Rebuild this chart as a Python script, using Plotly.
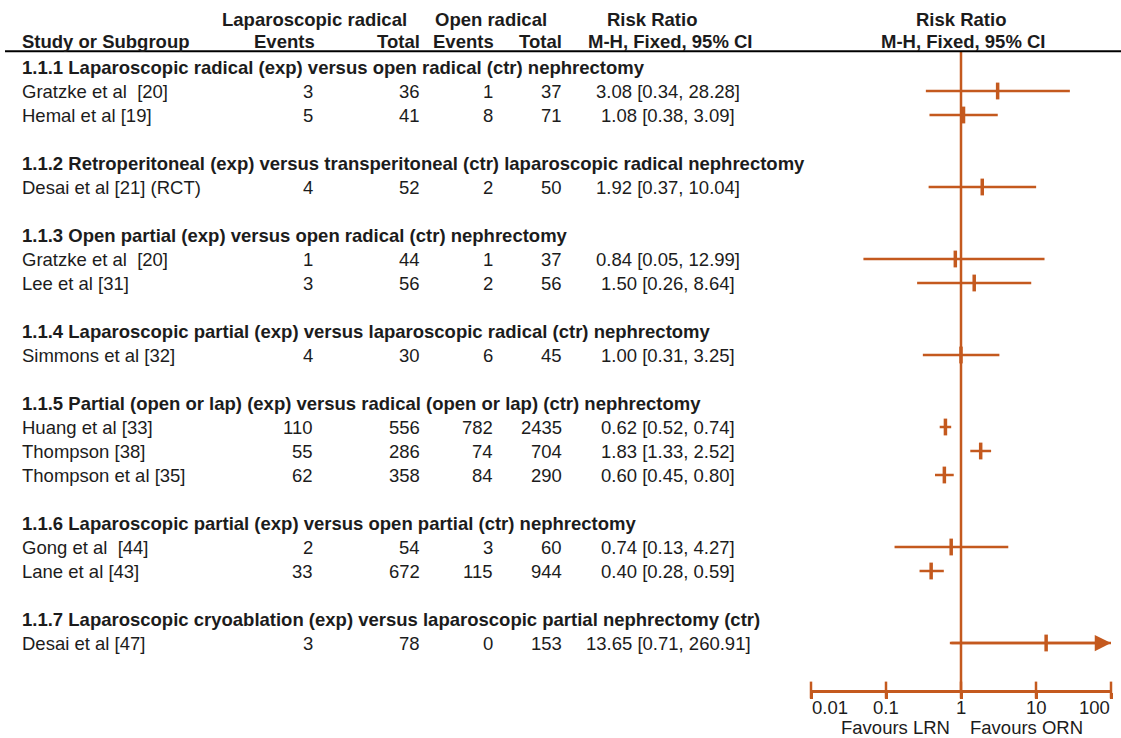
import math
import plotly.graph_objects as go

# ---------------- data ----------------
group_titles = [
    "1.1.1 Laparoscopic radical (exp) versus open radical (ctr) nephrectomy",
    "1.1.2 Retroperitoneal (exp) versus transperitoneal (ctr) laparoscopic radical nephrectomy",
    "1.1.3 Open partial (exp) versus open radical (ctr) nephrectomy",
    "1.1.4 Laparoscopic partial (exp) versus laparoscopic radical (ctr) nephrectomy",
    "1.1.5 Partial (open or lap) (exp) versus radical (open or lap) (ctr) nephrectomy",
    "1.1.6 Laparoscopic partial (exp) versus open partial (ctr) nephrectomy",
    "1.1.7 Laparoscopic cryoablation (exp) versus laparoscopic partial nephrectomy (ctr)",
]
study_group = [0, 0, 1, 2, 2, 3, 4, 4, 4, 5, 5, 6]
study_names = [
    "Gratzke et al\u00a0 [20]", "Hemal et al [19]", "Desai et al [21] (RCT)",
    "Gratzke et al\u00a0 [20]", "Lee et al [31]", "Simmons et al [32]",
    "Huang et al [33]", "Thompson [38]", "Thompson et al [35]",
    "Gong et al\u00a0 [44]", "Lane et al [43]", "Desai et al [47]",
]
events_exp = [3, 5, 4, 1, 3, 4, 110, 55, 62, 2, 33, 3]
total_exp = [36, 41, 52, 44, 56, 30, 556, 286, 358, 54, 672, 78]
events_ctr = [1, 8, 2, 1, 2, 6, 782, 74, 84, 3, 115, 0]
total_ctr = [37, 71, 50, 37, 56, 45, 2435, 704, 290, 60, 944, 153]
rr = [3.08, 1.08, 1.92, 0.84, 1.50, 1.00, 0.62, 1.83, 0.60, 0.74, 0.40, 13.65]
ci_lo = [0.34, 0.38, 0.37, 0.05, 0.26, 0.31, 0.52, 1.33, 0.45, 0.13, 0.28, 0.71]
ci_hi = [28.28, 3.09, 10.04, 12.99, 8.64, 3.25, 0.74, 2.52, 0.80, 4.27, 0.59, 260.91]
tick_vals = [0.01, 0.1, 1, 10, 100]
tick_text = ["0.01", "0.1", "1", "10", "100"]
x_min, x_max = 0.01, 100

# ---------------- layout helpers ----------------
W, H = 1121, 738
ORANGE = "#C4591E"
TXT = "#1c1c1c"
FONT = "Liberation Sans, Arial, sans-serif"
FS = 18.5

# assign rows: group header, studies, blank row
group_row = []
study_row = []
r = 0
for g, title in enumerate(group_titles):
    group_row.append(r)
    r += 1
    for i, sg in enumerate(study_group):
        if sg == g:
            study_row.append((i, r))
            r += 1
    r += 1
study_row = [row for _, row in sorted(study_row)]
axis_row = r - 0.0417
rule_row = -0.654
top_row = -2.7917

def px(x):
    return x / W

fig = go.Figure()

# CI lines
cx, cy = [], []
for lo, hi, row in zip(ci_lo, ci_hi, study_row):
    cx += [lo, min(hi, x_max), None]
    cy += [row, row, None]
fig.add_trace(go.Scatter(x=cx, y=cy, mode="lines",
                         line=dict(color=ORANGE, width=2.5),
                         hoverinfo="skip", showlegend=False, cliponaxis=False))
# null line
fig.add_trace(go.Scatter(x=[1, 1], y=[rule_row, axis_row], mode="lines",
                         line=dict(color=ORANGE, width=2.5),
                         hoverinfo="skip", showlegend=False, cliponaxis=False))
# point estimates
fig.add_trace(go.Scatter(x=rr, y=study_row, mode="markers",
                         marker=dict(symbol="line-ns-open", size=12, color=ORANGE,
                                     line=dict(color=ORANGE, width=3.5)),
                         showlegend=False, cliponaxis=False))
# axis tick marks (crossing the axis line)
fig.add_trace(go.Scatter(x=tick_vals, y=[axis_row] * len(tick_vals), mode="markers",
                         marker=dict(symbol="line-ns-open", size=12, color=ORANGE,
                                     line=dict(color=ORANGE, width=2.5)),
                         hoverinfo="skip", showlegend=False, cliponaxis=False))

ann = []

def add_text(x, y, text, anchor="left", bold=False, size=FS, yref="y", xref="paper", xshift=0):
    ann.append(dict(x=x, y=y, xref=xref, yref=yref, text=f"<b>{text}</b>" if bold else text,
                    showarrow=False, xanchor=anchor, yanchor="middle", align=anchor,
                    borderpad=0, xshift=xshift,
                    font=dict(family=FONT, size=size, color=TXT)))

# headers
add_text(px(314), -2.0, "Laparoscopic radical", "center", True)
add_text(px(491), -2.0, "Open radical", "center", True)
add_text(px(652), -2.0, "Risk Ratio", "center", True)
add_text(px(961), -2.0, "Risk Ratio", "center", True)
add_text(px(21), -1.07, "Study or Subgroup", "left", True)
add_text(px(316), -1.07, "Events", "right", True)
add_text(px(421), -1.07, "Total", "right", True)
add_text(px(495), -1.07, "Events", "right", True)
add_text(px(563), -1.07, "Total", "right", True)
add_text(px(670), -1.07, "M-H, Fixed, 95% CI", "center", True)
add_text(px(963), -1.07, "M-H, Fixed, 95% CI", "center", True)

for title, row in zip(group_titles, group_row):
    add_text(px(21), row, title, "left", True)

for i, row in enumerate(study_row):
    add_text(px(21), row, study_names[i], "left")
    add_text(px(314), row, str(events_exp[i]), "right")
    add_text(px(421), row, str(total_exp[i]), "right")
    add_text(px(494), row, str(events_ctr[i]), "right")
    add_text(px(563), row, str(total_ctr[i]), "right")
    add_text(px(668), row, f"{rr[i]:.2f} [{ci_lo[i]:.2f}, {ci_hi[i]:.2f}]", "center")

# axis tick labels (outer ones aligned inward like the reference)
for k, (tv, tt) in enumerate(zip(tick_vals, tick_text)):
    anc = "left" if k == 0 else ("right" if k == len(tick_vals) - 1 else "center")
    add_text(math.log10(tv), (H - 707) / H, tt, anc, xref="x", yref="paper")

# favours labels
add_text(0, (H - 727) / H, "Favours LRN", "right", xref="x", yref="paper", xshift=-10)
add_text(0, (H - 727) / H, "Favours ORN", "left", xref="x", yref="paper", xshift=8)

# arrowheads for truncated CIs
for lo, hi, row in zip(ci_lo, ci_hi, study_row):
    if hi > x_max:
        ann.append(dict(x=math.log10(x_max), y=row, xref="x", yref="y",
                        ax=math.log10(lo), ay=row, axref="x", ayref="y",
                        showarrow=True, arrowhead=2, arrowsize=1.3, arrowwidth=2.5,
                        arrowcolor=ORANGE, text=""))

fig.update_layout(
    width=W, height=H,
    margin=dict(l=0, r=0, t=0, b=0, pad=0, autoexpand=False),
    paper_bgcolor="white", plot_bgcolor="white",
    annotations=ann,
    showlegend=False,
    shapes=[dict(type="line", xref="paper", yref="y", x0=px(5), x1=1,
                 y0=rule_row, y1=rule_row, line=dict(color="black", width=2))],
    xaxis=dict(type="log", range=[math.log10(x_min), math.log10(x_max)],
               domain=[px(811), px(1111)], showgrid=False, zeroline=False,
               showline=True, linecolor=ORANGE, linewidth=2.5,
               ticks="outside", ticklen=6, tickwidth=2.5, tickcolor=ORANGE,
               tickvals=tick_vals, showticklabels=False, automargin=False),
    yaxis=dict(range=[axis_row, top_row], domain=[(H - 690) / H, 1],
               visible=False, showgrid=False, zeroline=False, automargin=False),
    font=dict(family=FONT, size=FS, color=TXT),
)

fig.write_html("out.html", config={"displayModeBar": False},
               post_script="document.body.style.margin='0px';document.body.style.overflow='hidden';")
